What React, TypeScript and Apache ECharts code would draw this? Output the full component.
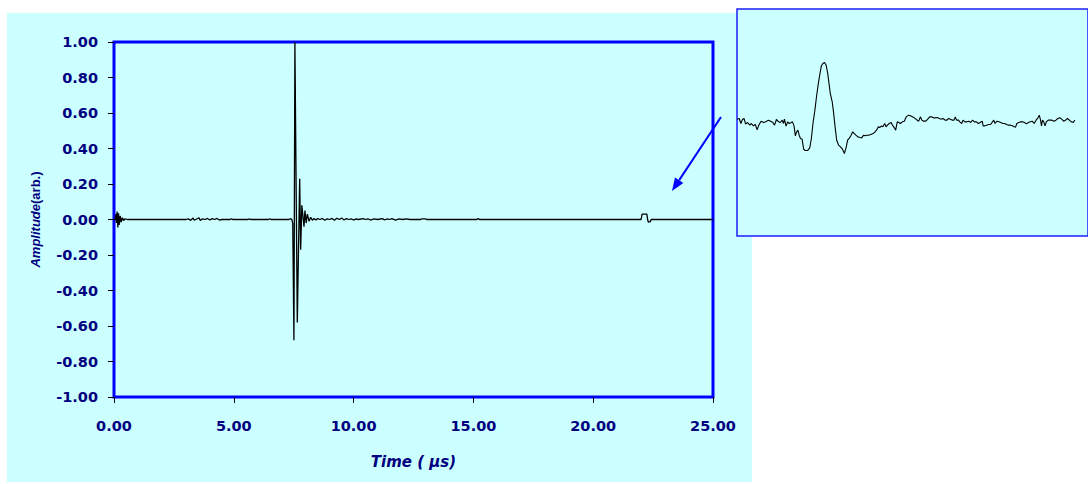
import React, { useEffect, useRef } from "react";
import * as echarts from "echarts";

// Main waveform: [time (µs), amplitude (arb.)]
const mainSignal: [number, number][] = [
  [0, 0], [0.05, 0.0], [0.08, 0.03], [0.1, -0.02], [0.13, 0.045], [0.16, -0.045], [0.19, 0.035],
  [0.22, -0.03], [0.26, 0.02], [0.3, -0.015], [0.35, 0.01], [0.4, -0.006], [0.45, 0.004], [0.55, 0],
  [3.0, 0], [3.1, 0.004], [3.2, -0.005], [3.3, 0.008], [3.35, -0.004], [3.45, 0.003], [3.55, 0.01],
  [3.6, -0.006], [3.7, 0.004], [3.8, 0], [3.9, 0.006], [4.0, -0.003], [4.1, 0.005], [4.2, 0],
  [4.3, 0.006], [4.4, -0.003], [4.5, 0], [4.85, 0], [4.9, 0.004], [4.95, 0], [5.6, 0], [5.65, 0.003],
  [5.7, 0], [6.45, 0], [6.5, 0.004], [6.55, 0], [7.3, 0], [7.38, 0.005], [7.42, 0], [7.46, -0.02],
  [7.51, -0.68], [7.55, 1.0], [7.65, -0.58], [7.75, 0.23], [7.79, -0.17], [7.84, 0.08], [7.93, -0.04],
  [7.97, 0.05], [8.02, -0.02], [8.07, 0.03], [8.14, -0.01], [8.21, 0.012], [8.28, -0.004], [8.35, 0.006],
  [8.42, -0.003], [8.5, 0.005], [8.6, 0], [8.7, 0.006], [8.8, -0.004], [8.9, 0.004], [9.0, 0],
  [9.1, 0.006], [9.2, -0.004], [9.3, 0.007], [9.4, 0], [9.5, 0.008], [9.6, -0.003], [9.7, 0.005],
  [9.8, 0], [9.9, 0.004], [10.0, -0.003], [10.1, 0.003], [10.2, 0], [10.4, 0.005], [10.5, 0],
  [10.6, 0.004], [10.7, -0.003], [10.85, 0.004], [11.0, 0], [11.2, 0.005], [11.3, -0.003],
  [11.4, 0.004], [11.5, 0], [11.6, 0.005], [11.75, -0.003], [11.9, 0.004], [12.05, 0], [12.2, 0.004],
  [12.35, 0], [12.8, 0], [12.85, 0.004], [13.0, 0.003], [13.05, 0], [15.15, 0], [15.2, 0.006],
  [15.25, 0], [22.0, 0], [22.04, 0.03], [22.24, 0.03], [22.27, 0], [22.3, -0.015], [22.38, -0.012],
  [22.42, 0], [25, 0],
];

// Inset close-up: [sample position, amplitude (arb.)]
const insetSignal: [number, number][] = [
  [5, 0.08], [12, 0.1], [17, -0.05], [22, 0.07], [27, 0.1], [32, -0.07], [38, -0.02], [45, -0.1],
  [50, -0.05], [56, -0.12], [62, -0.08], [68, -0.24], [72, -0.12], [80, 0.02], [88, -0.02], [95, 0],
  [103, 0.05], [110, 0.02], [117, -0.02], [122, -0.1], [128, 0.07], [135, 0], [140, -0.02], [146, 0.05],
  [150, -0.05], [153, 0.08], [158, -0.13], [163, 0], [168, -0.05], [173, -0.03], [178, 0], [183, -0.12],
  [187, -0.42], [191, -0.3], [195, -0.25], [199, -0.4], [203, -0.5], [208, -0.52], [213, -0.82],
  [218, -0.86], [225, -0.86], [232, -0.78], [237, -0.5], [242, -0.05], [248, 0.35], [253, 0.75],
  [258, 1.1], [263, 1.4], [268, 1.67], [273, 1.75], [278, 1.78], [283, 1.7], [288, 1.45], [292, 1.15],
  [296, 0.85], [302, 0.6], [306, 0.3], [311, -0.15], [316, -0.55], [322, -0.7], [328, -0.75],
  [334, -0.82], [340, -0.95], [346, -0.75], [350, -0.55], [356, -0.48], [361, -0.4], [366, -0.3],
  [371, -0.35], [376, -0.4], [382, -0.45], [388, -0.47], [394, -0.48], [400, -0.4], [405, -0.42],
  [410, -0.4], [416, -0.4], [422, -0.38], [428, -0.36], [434, -0.32], [440, -0.25], [446, -0.15],
  [450, -0.17], [456, -0.12], [460, -0.15], [466, -0.05], [470, -0.15], [474, -0.1], [480, -0.05],
  [486, -0.02], [490, -0.1], [496, -0.18], [500, -0.25], [505, 0], [510, -0.02], [515, -0.05],
  [521, 0], [527, 0.02], [533, 0.15], [540, 0.2], [546, 0.18], [552, 0.15], [558, 0.12], [563, 0.08],
  [568, 0.04], [572, 0.02], [577, 0.15], [582, 0.05], [588, 0.02], [594, 0.02], [600, 0.08],
  [606, 0.15], [612, 0.15], [618, 0.12], [624, 0.12], [630, 0.13], [636, 0.1], [642, 0.08], [648, 0.1],
  [654, 0.05], [660, 0.05], [665, 0.1], [671, 0.08], [677, 0.05], [682, 0.05], [686, 0.15], [690, 0.05],
  [696, 0.05], [700, 0], [706, -0.05], [710, 0.05], [716, 0], [722, 0], [728, 0.02], [734, -0.02],
  [740, 0.05], [746, 0], [752, 0], [758, -0.05], [764, -0.02], [770, 0.02], [773, -0.12], [778, -0.12],
  [784, -0.1], [790, -0.08], [796, -0.08], [802, 0], [806, 0.05], [810, -0.05], [816, 0.02], [822, 0],
  [828, -0.02], [834, -0.05], [840, -0.05], [846, -0.08], [852, -0.1], [858, -0.1], [864, -0.12],
  [870, -0.15], [874, -0.16], [878, -0.05], [884, -0.02], [890, 0], [896, 0], [902, -0.02], [908, -0.06],
  [914, -0.02], [920, 0], [926, 0.02], [932, -0.05], [938, 0.05], [944, 0.12], [948, 0.2], [952, 0.05],
  [955, -0.12], [958, 0.05], [962, 0], [966, -0.12], [970, 0], [976, 0.05], [982, 0.05], [988, 0.05],
  [994, 0.02], [1000, 0.05], [1006, 0.1], [1012, 0.12], [1018, 0.08], [1024, 0.02], [1030, 0.05],
  [1036, 0.1], [1042, 0.05], [1048, 0], [1054, -0.02], [1059, 0.05],
];

const xMin = 0;
const xMax = 25;
const xStep = 5;
const yMin = -1;
const yMax = 1;
const yStep = 0.2;

const NAVY = "#000080";
const BLUE = "#0000FF";
const CYAN = "#CCFFFF";
const LABEL_FONT = "'DejaVu Sans', sans-serif";
const TITLE_FONT = "'Liberation Sans', Arial, sans-serif";

export default function App() {
  const ref = useRef<HTMLDivElement>(null);

  useEffect(() => {
    if (!ref.current) return;
    const chart = echarts.init(ref.current, undefined, { renderer: "svg" });

    // arrow geometry
    const tip = [672, 191];
    const start = [721, 117];
    const dx = tip[0] - start[0];
    const dy = tip[1] - start[1];
    const len = Math.sqrt(dx * dx + dy * dy);
    const ux = dx / len;
    const uy = dy / len;
    const headLen = 13;
    const headHalf = 5;
    const bx = tip[0] - ux * headLen;
    const by = tip[1] - uy * headLen;
    const px = -uy;
    const py = ux;

    chart.setOption({
      animation: false,
      backgroundColor: "#FFFFFF",
      graphic: [
        {
          type: "rect",
          z: -10,
          shape: { x: 7, y: 13, width: 745, height: 469 },
          style: { fill: CYAN },
          silent: true,
        },
        {
          type: "line",
          z: 100,
          shape: { x1: start[0], y1: start[1], x2: bx, y2: by },
          style: { stroke: BLUE, lineWidth: 2 },
          silent: true,
        },
        {
          type: "polygon",
          z: 100,
          shape: {
            points: [
              [tip[0], tip[1]],
              [bx + px * headHalf, by + py * headHalf],
              [bx - px * headHalf, by - py * headHalf],
            ],
          },
          style: { fill: BLUE },
          silent: true,
        },
      ],
      grid: [
        {
          left: 114,
          top: 42,
          width: 599,
          height: 355,
          show: true,
          backgroundColor: CYAN,
          borderColor: BLUE,
          borderWidth: 3,
        },
        {
          left: 737,
          top: 9,
          width: 365,
          height: 227,
          show: true,
          backgroundColor: CYAN,
          borderColor: "#1E1EFF",
          borderWidth: 1.5,
        },
      ],
      xAxis: [
        {
          type: "value",
          gridIndex: 0,
          position: "bottom",
          min: xMin,
          max: xMax,
          interval: xStep,
          axisLine: { show: false, onZero: false },
          axisTick: { show: true, length: 6, lineStyle: { color: "#000000", width: 1 } },
          splitLine: { show: false },
          axisLabel: {
            margin: 21,
            color: NAVY,
            fontFamily: LABEL_FONT,
            fontWeight: "bold",
            fontSize: 14.5,
            formatter: (v: number) => v.toFixed(2),
          },
          name: "Time ( µs)",
          nameLocation: "middle",
          nameGap: 57,
          nameTextStyle: {
            color: NAVY,
            fontFamily: LABEL_FONT,
            fontWeight: "bold",
            fontStyle: "italic",
            fontSize: 15,
          },
        },
        {
          type: "value",
          gridIndex: 1,
          min: 5,
          max: 1100,
          show: false,
        },
      ],
      yAxis: [
        {
          type: "value",
          gridIndex: 0,
          position: "left",
          min: yMin,
          max: yMax,
          interval: yStep,
          axisLine: { show: false, onZero: false },
          axisTick: { show: true, length: 6, lineStyle: { color: "#000000", width: 1 } },
          splitLine: { show: false },
          axisLabel: {
            margin: 16,
            color: NAVY,
            fontFamily: LABEL_FONT,
            fontWeight: "bold",
            fontSize: 14.5,
            formatter: (v: number) => (Math.abs(v) < 1e-9 ? 0 : v).toFixed(2),
          },
          name: "{i|Amplitude}{n|(arb.)}",
          nameLocation: "middle",
          nameRotate: 90,
          nameGap: 72,
          nameTextStyle: {
            fontSize: 13,
            rich: {
              i: {
                color: NAVY,
                fontFamily: TITLE_FONT,
                fontWeight: "bold",
                fontStyle: "italic",
                fontSize: 13,
              },
              n: {
                color: NAVY,
                fontFamily: TITLE_FONT,
                fontWeight: "bold",
                fontSize: 13,
              },
            },
          },
        },
        {
          type: "value",
          gridIndex: 1,
          min: -3.42,
          max: 3.38,
          show: false,
        },
      ],
      series: [
        {
          type: "line",
          xAxisIndex: 0,
          yAxisIndex: 0,
          data: mainSignal,
          showSymbol: false,
          symbol: "none",
          lineStyle: { color: "#000000", width: 1.3 },
          z: 5,
        },
        {
          type: "line",
          xAxisIndex: 1,
          yAxisIndex: 1,
          data: insetSignal,
          showSymbol: false,
          symbol: "none",
          lineStyle: { color: "#000000", width: 1.1 },
          z: 5,
        },
      ],
    });

    return () => chart.dispose();
  }, []);

  return (
    <div
      ref={ref}
      style={{ position: "fixed", left: 0, top: 0, width: 1088, height: 484 }}
    />
  );
}
